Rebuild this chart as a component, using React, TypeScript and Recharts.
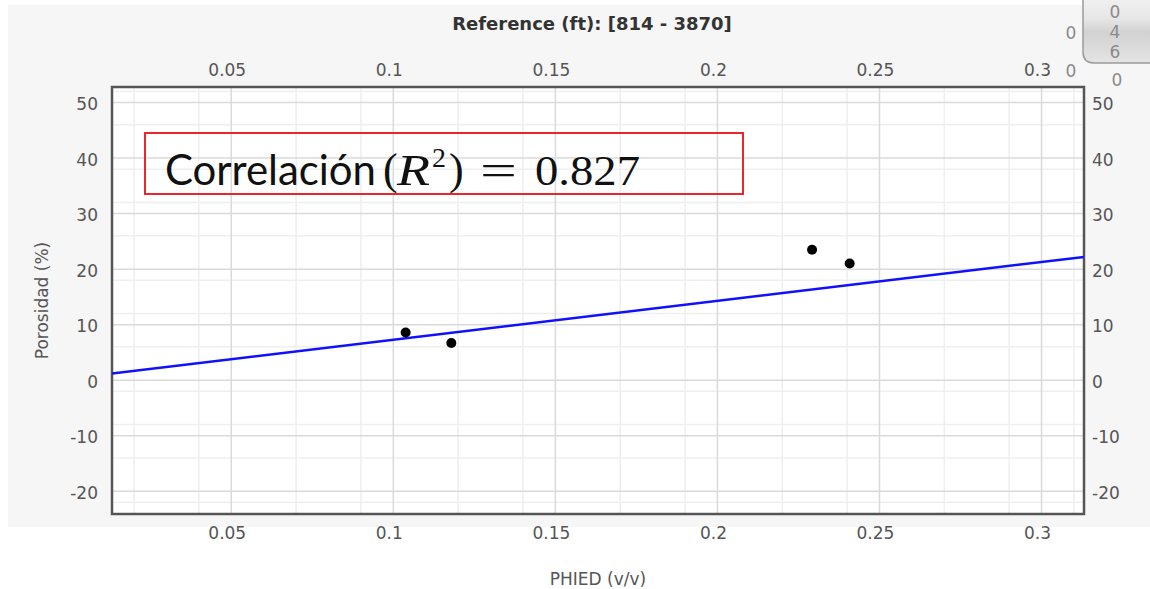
import React from 'react';
import { ComposedChart, XAxis, YAxis, CartesianGrid, Scatter, Line, ReferenceArea } from 'recharts';

// Measured points (PHIED vs Porosidad)
const phied = [0.1038, 0.1179, 0.2292, 0.2408];
const porosidad = [8.6, 6.7, 23.5, 21.0];
// Regression line end points
const fitPhied = [0.0132, 0.3131];
const fitPorosidad = [1.2, 22.2];

const xDomain = [0.0132, 0.3131];
const yDomain = [-24.1, 52.8];
const xTicks = [0.05, 0.1, 0.15, 0.2, 0.25, 0.3];
const yTicks = [-20, -10, 0, 10, 20, 30, 40, 50];
const xMinor = [0.02, 0.03, 0.04, 0.06, 0.07, 0.08, 0.09, 0.11, 0.12, 0.13, 0.14, 0.16, 0.17, 0.18, 0.19, 0.21, 0.22, 0.23, 0.24, 0.26, 0.27, 0.28, 0.29, 0.31];
const yMinor = [-24, -22, -18, -16, -14, -12, -8, -6, -4, -2, 2, 4, 6, 8, 12, 14, 16, 18, 22, 24, 26, 28, 32, 34, 36, 38, 42, 44, 46, 48, 52];

const pointData = phied.map((x, i) => ({ x, y: porosidad[i] }));
const fitData = fitPhied.map((x, i) => ({ x, y: fitPorosidad[i] }));

const FONT = 'DejaVu Sans, Verdana, sans-serif';
const xTickStyle = { fill: '#555', fontSize: 17, fontFamily: FONT, dx: -4 };
const yTickStyle = { fill: '#555', fontSize: 17, fontFamily: FONT, dy: 1.5 };

const Frame = (p: any) => {
  const { x, y, width, height } = p;
  return (
    <g>
      <defs>
        <filter id="frameBlur" x="-5%" y="-5%" width="110%" height="110%">
          <feGaussianBlur stdDeviation="1.5" />
        </filter>
      </defs>
      <line x1={x + 6} y1={y + height + 3.5} x2={x + width + 3.5} y2={y + height + 3.5} stroke="#bdbdbd" strokeWidth={4} filter="url(#frameBlur)" />
      <line x1={x + width + 3.5} y1={y + 6} x2={x + width + 3.5} y2={y + height + 3.5} stroke="#bdbdbd" strokeWidth={4} filter="url(#frameBlur)" />
      <rect x={x} y={y} width={width} height={height} fill="none" stroke="#555" strokeWidth={2.5} />
    </g>
  );
};

const Dot = (p: any) => <circle cx={p.cx} cy={p.cy} r={5} fill="#000" />;

const SERIF = 'Liberation Serif, serif';

export default function App() {
  return (
    <div style={{ position: 'absolute', left: 0, top: 0, width: 1150, height: 589, background: '#fff', overflow: 'hidden' }}>
      <div style={{ position: 'absolute', left: 8, top: 5, width: 1142, height: 522, background: '#f6f6f6' }} />
      <div style={{ position: 'absolute', left: 0, top: 0 }}>
        <ComposedChart width={1150} height={589} margin={{ top: 57, right: 6, bottom: 45, left: 52 }}>
          <CartesianGrid xAxisId="b" yAxisId="l" fill="#fff" stroke="#efefef" strokeWidth={1.5} verticalValues={xMinor} horizontalValues={yMinor} />
          <CartesianGrid xAxisId="b" yAxisId="l" stroke="#dadada" strokeWidth={1.5} verticalValues={xTicks} horizontalValues={yTicks} />
          <XAxis
            xAxisId="b"
            dataKey="x"
            type="number"
            domain={xDomain}
            allowDataOverflow
            ticks={xTicks}
            height={30}
            tickSize={0}
            tickMargin={13}
            axisLine={false}
            tickLine={false}
            tick={xTickStyle}
            label={{ value: 'PHIED (v/v)', position: 'bottom', offset: 29, fill: '#555', fontSize: 17, fontFamily: FONT }}
          />
          <XAxis
            xAxisId="t"
            orientation="top"
            dataKey="x"
            type="number"
            domain={xDomain}
            allowDataOverflow
            ticks={xTicks}
            height={30}
            tickSize={0}
            tickMargin={11}
            axisLine={false}
            tickLine={false}
            tick={xTickStyle}
            label={{ value: 'Reference (ft): [814 - 3870]', position: 'top', offset: 27, dx: -6, fill: '#333', fontSize: 18, fontWeight: 'bold', fontFamily: FONT }}
          />
          <YAxis
            yAxisId="l"
            dataKey="y"
            type="number"
            domain={yDomain}
            allowDataOverflow
            ticks={yTicks}
            width={60}
            tickSize={0}
            tickMargin={14}
            axisLine={false}
            tickLine={false}
            tick={yTickStyle}
            label={{ value: 'Porosidad (%)', angle: -90, position: 'insideLeft', offset: -10, fill: '#555', fontSize: 17, fontFamily: FONT, style: { textAnchor: 'middle' } }}
          />
          <YAxis
            yAxisId="r"
            orientation="right"
            dataKey="y"
            type="number"
            domain={yDomain}
            allowDataOverflow
            ticks={yTicks}
            width={60}
            tickSize={0}
            tickMargin={8}
            axisLine={false}
            tickLine={false}
            tick={yTickStyle}
          />
          <Line
            xAxisId="b"
            yAxisId="l"
            data={fitData}
            dataKey="y"
            type="linear"
            stroke="#1010ff"
            strokeWidth={2.5}
            dot={false}
            activeDot={false}
            isAnimationActive={false}
          />
          <Scatter xAxisId="b" yAxisId="l" data={pointData} dataKey="y" shape={Dot} isAnimationActive={false} />
          <ReferenceArea xAxisId="b" yAxisId="l" x1={xDomain[0]} x2={xDomain[1]} y1={yDomain[0]} y2={yDomain[1]} shape={Frame} />
        </ComposedChart>
      </div>
      <svg width={1150} height={589} style={{ position: 'absolute', left: 0, top: 0, pointerEvents: 'none' }}>
        <defs>
          <linearGradient id="tabGrad" x1="0" y1="0" x2="0" y2="1">
            <stop offset="0" stopColor="#f2f2f2" />
            <stop offset="0.35" stopColor="#e6e6e6" />
            <stop offset="0.55" stopColor="#d2d2d2" />
            <stop offset="1" stopColor="#e4e4e4" />
          </linearGradient>
        </defs>
        <rect x={145} y={133} width={598} height={61} fill="none" stroke="#e8262c" strokeWidth={2} />
        <g fill="#111">
          <text x={165} y={185} fontFamily="Lato, sans-serif" fontSize={42} textLength={211} lengthAdjust="spacingAndGlyphs">Correlación</text>
          <text x={383} y={184} fontFamily={SERIF} fontSize={44}>(</text>
          <text x={397} y={185} fontFamily={SERIF} fontSize={44} fontStyle="italic" textLength={33} lengthAdjust="spacingAndGlyphs">R</text>
          <text x={432} y={167} fontFamily={SERIF} fontSize={28}>2</text>
          <text x={449} y={184} fontFamily={SERIF} fontSize={44}>)</text>
          <text x={480} y={185} fontFamily={SERIF} fontSize={44} textLength={37} lengthAdjust="spacingAndGlyphs">=</text>
          <text x={535} y={185} fontFamily={SERIF} fontSize={43} textLength={105} lengthAdjust="spacingAndGlyphs">0.827</text>
        </g>
        <path d="M1083,-5 L1083,52 Q1083,63 1094,63 L1155,63 L1155,-5 Z" fill="url(#tabGrad)" stroke="#9a9a9a" strokeWidth={1.5} />
        <g fill="#8a8a8a" fontFamily={FONT} fontSize={17} textAnchor="middle">
          <text x={1115} y={18}>0</text>
          <text x={1115} y={38}>4</text>
          <text x={1115} y={58}>6</text>
          <text x={1117} y={86}>0</text>
          <text x={1071} y={39}>0</text>
          <text x={1071} y={77}>0</text>
        </g>
      </svg>
    </div>
  );
}
